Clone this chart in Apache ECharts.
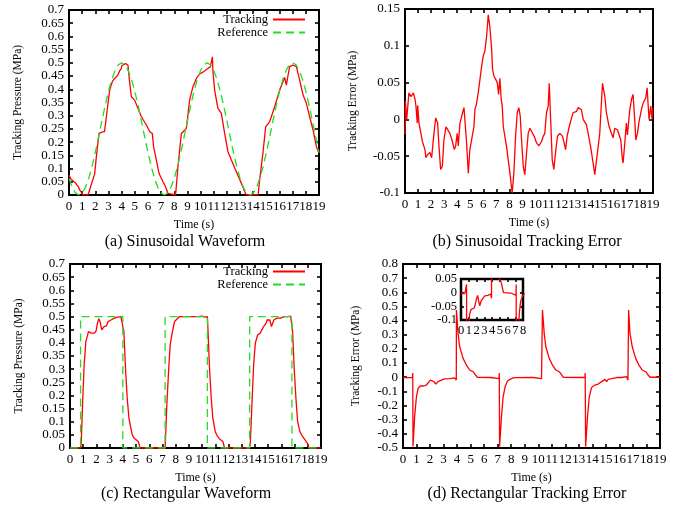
<!DOCTYPE html>
<html>
<head>
<meta charset="utf-8">
<script src="https://cdn.jsdelivr.net/npm/echarts@6/dist/echarts.min.js"></script>
<style>
  html, body { margin: 0; padding: 0; background: #fff; }
  #chart { width: 683px; height: 515px; }
</style>
</head>
<body>
<div id="chart"></div>
<script>
// ---- (a) sinusoidal reference pressure, MPa, [time s, value]
const sineReference = [
  [0,0.063],[0.25,0.029],[0.5,0.007],[0.75,0],[1,0.007],[1.25,0.029],[1.5,0.063],[1.75,0.108],
  [2,0.161],[2.25,0.22],[2.5,0.28],[2.75,0.339],[3,0.392],[3.25,0.437],[3.5,0.471],[3.75,0.493],
  [4,0.5],[4.25,0.493],[4.5,0.471],[4.75,0.437],[5,0.392],[5.25,0.339],[5.5,0.28],[5.75,0.22],
  [6,0.161],[6.25,0.108],[6.5,0.063],[6.75,0.029],[7,0.007],[7.25,0],[7.5,0.007],[7.75,0.029],
  [8,0.063],[8.25,0.108],[8.5,0.161],[8.75,0.22],[9,0.28],[9.25,0.339],[9.5,0.392],[9.75,0.437],
  [10,0.471],[10.25,0.493],[10.5,0.5],[10.75,0.493],[11,0.471],[11.25,0.437],[11.5,0.392],[11.75,0.339],
  [12,0.28],[12.25,0.22],[12.5,0.161],[12.75,0.108],[13,0.063],[13.25,0.029],[13.5,0.007],[13.75,0],
  [14,0.007],[14.25,0.029],[14.5,0.063],[14.75,0.108],[15,0.161],[15.25,0.22],[15.5,0.28],[15.75,0.339],
  [16,0.392],[16.25,0.437],[16.5,0.471],[16.75,0.493],[17,0.5],[17.25,0.493],[17.5,0.471],[17.75,0.437],
  [18,0.392],[18.25,0.339],[18.5,0.28],[18.75,0.22],[19,0.161]
];
// ---- (a) measured tracking pressure
const sineTracking = [
  [0,0.076],[0.15,0.06],[0.3,0.057],[0.5,0.045],[0.73,0.03],[0.8,0.02],[0.94,0.01],[1.06,0],[1.45,0],
  [1.57,0.02],[1.95,0.08],[2.08,0.145],[2.28,0.233],[2.5,0.238],[2.7,0.24],[2.84,0.296],[3.09,0.397],
  [3.3,0.43],[3.47,0.441],[3.72,0.454],[3.85,0.47],[3.98,0.479],[4.02,0.49],[4.1,0.496],[4.3,0.497],
  [4.48,0.492],[4.6,0.43],[4.74,0.372],[4.86,0.378],[4.99,0.359],[5.24,0.328],[5.5,0.296],[5.88,0.265],
  [6.13,0.24],[6.33,0.233],[6.43,0.183],[6.64,0.132],[6.84,0.082],[7.14,0.05],[7.27,0.044],[7.35,0.03],
  [7.52,0.006],[7.65,0],[8.1,0],[8.28,0.107],[8.54,0.233],[8.66,0.24],[8.92,0.252],[9.17,0.36],[9.42,0.41],
  [9.68,0.441],[9.93,0.458],[10.24,0.467],[10.56,0.479],[10.74,0.485],[10.85,0.478],[10.9,0.523],
  [10.94,0.467],[11.07,0.397],[11.2,0.36],[11.32,0.328],[11.58,0.309],[11.83,0.233],[12.08,0.164],
  [12.34,0.132],[12.72,0.088],[13.1,0.044],[13.35,0.013],[13.48,0],[14.37,0],[14.49,0.057],[14.75,0.164],
  [14.95,0.259],[15.25,0.277],[15.63,0.334],[16.01,0.397],[16.27,0.429],[16.39,0.445],[16.52,0.416],
  [16.65,0.454],[16.77,0.486],[17.03,0.492],[17.28,0.486],[17.53,0.435],[17.79,0.378],[18.04,0.347],
  [18.29,0.296],[18.55,0.246],[18.8,0.183],[19,0.158]
];
// ---- (b) sinusoidal tracking error
const sineError = [
  [0,-0.02],[0.03,0.025],[0.13,0],[0.3,0.036],[0.46,0.031],[0.64,0.036],[0.77,0.027],[0.84,0.018],
  [0.94,-0.005],[0.97,0.019],[1.07,-0.005],[1.15,-0.003],[1.22,-0.019],[1.33,-0.03],[1.45,-0.032],
  [1.53,-0.041],[1.6,-0.052],[1.73,-0.048],[1.91,-0.045],[2.04,-0.052],[2.22,-0.019],[2.35,0.002],
  [2.5,-0.005],[2.6,-0.036],[2.73,-0.068],[2.86,-0.064],[2.98,-0.028],[3.14,-0.01],[3.25,-0.012],
  [3.44,-0.019],[3.6,-0.028],[3.78,-0.041],[3.88,-0.036],[4,-0.019],[4.08,-0.036],[4.21,-0.005],
  [4.41,0.009],[4.52,0.016],[4.62,0.014],[4.72,-0.032],[4.85,-0.073],[4.97,-0.041],[5.15,-0.023],
  [5.28,-0.01],[5.36,0.014],[5.48,0.021],[5.61,0.036],[5.74,0.054],[5.87,0.072],[5.99,0.086],
  [6.12,0.093],[6.25,0.113],[6.38,0.142],[6.5,0.126],[6.63,0.097],[6.71,0.068],[6.81,0.059],
  [6.96,0.054],[7.07,0.05],[7.17,0.034],[7.27,0.056],[7.37,0.027],[7.45,0.018],[7.53,-0.01],
  [7.65,-0.023],[7.78,-0.037],[7.91,-0.055],[8.04,-0.073],[8.21,-0.1],[8.34,-0.073],[8.47,-0.023],
  [8.6,0.009],[8.72,0.016],[8.83,0.004],[8.93,-0.028],[9.06,-0.064],[9.18,-0.075],[9.31,-0.046],
  [9.44,-0.019],[9.57,-0.012],[9.69,-0.014],[9.9,-0.023],[10.08,-0.032],[10.26,-0.036],[10.46,-0.03],
  [10.59,-0.023],[10.71,-0.019],[10.84,0.009],[10.97,0.018],[11.05,0.049],[11.15,0.004],[11.28,-0.055],
  [11.4,-0.068],[11.56,-0.041],[11.68,-0.023],[11.86,-0.019],[12.07,-0.023],[12.19,-0.032],[12.3,-0.041],
  [12.42,-0.023],[12.58,-0.01],[12.76,0.002],[12.88,0.009],[13.14,0.011],[13.27,0.016],[13.52,0.013],
  [13.65,0],[13.9,-0.007],[14.03,-0.019],[14.21,-0.036],[14.41,-0.059],[14.54,-0.075],[14.67,-0.077],
  [14.92,-0.019],[15.13,0.049],[15.31,0.031],[15.43,0.009],[15.64,-0.01],[15.82,-0.019],[15.94,-0.025],
  [16.07,-0.012],[16.28,-0.014],[16.4,-0.016],[16.53,-0.028],[16.66,-0.055],[16.71,-0.059],[16.84,-0.032],
  [16.96,-0.005],[17.04,-0.021],[17.22,0.013],[17.35,0.027],[17.47,0.034],[17.6,0],[17.68,-0.028],
  [17.81,-0.019],[17.93,-0.003],[18.11,0.013],[18.24,0.022],[18.44,0.029],[18.55,0.043],[18.62,0.022],
  [18.7,0],[18.83,0.018],[18.93,0],[19,0.016]
];
// ---- (c) rectangular reference pressure
const rectReference = [
  [0,0],[0.8,0],[0.8,0.5],[4,0.5],[4,0],[7.2,0],[7.2,0.5],[10.4,0.5],[10.4,0],
  [13.6,0],[13.6,0.5],[16.8,0.5],[16.8,0],[19,0]
];
// ---- (c) measured tracking pressure
const rectTracking = [
  [0,0],[0.8,0],[0.85,0.02],[0.95,0.165],[1.07,0.316],[1.2,0.405],[1.4,0.443],[1.6,0.437],[1.85,0.437],
  [1.97,0.445],[2.08,0.475],[2.18,0.492],[2.28,0.48],[2.4,0.449],[2.58,0.462],[2.76,0.465],[2.88,0.481],
  [3.1,0.487],[3.35,0.494],[3.6,0.498],[3.85,0.5],[3.92,0.506],[3.97,0.497],[4,0.5],[4.08,0.443],
  [4.2,0.304],[4.33,0.19],[4.46,0.114],[4.58,0.082],[4.71,0.051],[4.84,0.038],[4.97,0.032],[5.17,0.025],
  [5.3,0],[7.2,0],[7.33,0.165],[7.46,0.29],[7.58,0.39],[7.73,0.437],[7.91,0.481],[8.04,0.487],[8.3,0.5],
  [9,0.5],[9.7,0.5],[10,0.502],[10.2,0.498],[10.4,0.5],[10.45,0.443],[10.56,0.304],[10.69,0.19],
  [10.81,0.114],[10.99,0.063],[11.17,0.044],[11.37,0.032],[11.57,0.025],[11.7,0],[13.6,0],[13.65,0.02],
  [13.77,0.165],[13.9,0.316],[14.03,0.399],[14.2,0.43],[14.4,0.437],[14.65,0.462],[14.85,0.475],
  [14.92,0.487],[15.13,0.487],[15.25,0.462],[15.43,0.487],[15.68,0.494],[15.94,0.494],[16.2,0.5],
  [16.45,0.5],[16.7,0.502],[16.8,0.5],[16.85,0.443],[16.97,0.304],[17.1,0.19],[17.23,0.101],[17.4,0.063],
  [17.6,0.044],[17.78,0.032],[17.96,0.019],[18.1,0],[19,0]
];
// ---- (d) rectangular tracking error
const rectError = [
  [0,-0.003],[0.5,-0.003],[0.7,-0.003],[0.72,0.03],[0.74,-0.49],[0.86,-0.28],[0.99,-0.14],[1.11,-0.08],
  [1.28,-0.062],[1.53,-0.062],[1.73,-0.055],[1.85,-0.048],[2.02,-0.02],[2.15,-0.01],[2.27,-0.03],
  [2.42,-0.048],[2.59,-0.031],[2.84,-0.02],[3.08,-0.012],[3.45,-0.01],[3.82,-0.005],[3.92,-0.01],
  [3.94,-0.02],[3.95,0.475],[4.07,0.31],[4.19,0.215],[4.44,0.133],[4.69,0.086],[4.93,0.051],[5.18,0.039],
  [5.3,0.023],[5.48,0],[6.5,-0.002],[7.1,-0.01],[7.12,0.03],[7.14,-0.49],[7.28,-0.28],[7.4,-0.14],
  [7.55,-0.067],[7.7,-0.031],[7.9,-0.015],[8.14,-0.005],[8.39,-0.003],[9.62,-0.002],[10.24,-0.01],
  [10.29,-0.02],[10.31,0.475],[10.44,0.31],[10.56,0.215],[10.81,0.133],[11.05,0.086],[11.3,0.051],
  [11.55,0.039],[11.67,0.023],[11.84,0],[13.45,-0.002],[13.47,0.03],[13.5,-0.49],[13.64,-0.28],
  [13.77,-0.14],[13.94,-0.072],[14.19,-0.055],[14.43,-0.048],[14.68,-0.031],[14.93,-0.015],[15.05,-0.031],
  [15.17,-0.015],[15.42,-0.01],[15.79,-0.002],[16.16,-0.002],[16.53,0.004],[16.63,-0.02],[16.68,0.475],
  [16.78,0.31],[16.95,0.215],[17.2,0.133],[17.44,0.086],[17.69,0.051],[17.94,0.039],[18.06,0.023],
  [18.26,0],[19,0]
];

const captions = ['(a) Sinusoidal Waveform', '(b) Sinusoidal Tracking Error',
                  '(c) Rectangular Waveform', '(d) Rectangular Tracking Error'];
const legendNames = ['Tracking', 'Reference'];

const FONT = '"Liberation Serif", "Times New Roman", serif';
const RED = '#ff0000';
const GREEN = '#22dd22';
const fmt = v => String(parseFloat(Number(v).toFixed(3)));

const grids = [], xAxes = [], yAxes = [], series = [];

function panel(box, xr, yr, o) {
  const gi = grids.length;
  const z = o.z || 0;
  grids.push({ left: box[0], top: box[1], width: box[2], height: box[3], show: true,
    borderColor: '#000', borderWidth: o.bw || 2, backgroundColor: '#fff', z: z });
  const tick = { show: true, inside: true, length: o.tl || 4, lineStyle: { color: '#000', width: 1.6 } };
  const noLine = { show: false, onZero: false };
  const lbl = (m) => ({ show: true, color: '#000', fontFamily: FONT, fontSize: o.fs || 13, margin: m, formatter: fmt });
  const nameStyle = { color: '#000', fontFamily: FONT, fontSize: 11.5 };
  const common = (r, pos) => ({ gridIndex: gi, type: 'value', min: r[0], max: r[1], interval: r[2], position: pos, z: z,
    axisLine: noLine, axisTick: tick, splitLine: { show: false } });
  xAxes.push(Object.assign(common(xr, 'bottom'), { axisLabel: lbl(o.xm || 5),
    name: o.xName || '', nameLocation: 'middle', nameGap: o.xGap || 24, nameTextStyle: Object.assign({}, nameStyle, { fontSize: 12 }) }));
  xAxes.push(Object.assign(common(xr, 'top'), { axisLabel: { show: false } }));
  yAxes.push(Object.assign(common(yr, 'left'), { axisLabel: lbl(o.ym || 5),
    name: o.yName || '', nameLocation: 'middle', nameRotate: 90, nameGap: o.yGap || 45, nameTextStyle: nameStyle }));
  yAxes.push(Object.assign(common(yr, 'right'), { axisLabel: { show: false } }));
  return { x: xAxes.length - 2, y: yAxes.length - 2, z: z };
}

function addLine(p, name, data, color, dashed) {
  series.push({ type: 'line', name: name, xAxisIndex: p.x, yAxisIndex: p.y, data: data,
    symbol: 'none', showSymbol: false, clip: true, z: p.z + 2,
    lineStyle: { color: color, width: 1.3, type: dashed ? [8, 5] : 'solid' },
    itemStyle: { color: color } });
}

const pa = panel([69, 10, 250, 185], [0, 19, 1], [0, 0.7, 0.05], { xName: 'Time (s)', yName: 'Tracking Pressure (MPa)', yGap: 45 });
const pb = panel([405, 9, 248, 184], [0, 19, 1], [-0.1, 0.15, 0.05], { xName: 'Time (s)', yName: 'Tracking Error (MPa)', yGap: 46 });
const pc = panel([70, 264, 251, 184], [0, 19, 1], [0, 0.7, 0.05], { xName: 'Time (s)', yName: 'Tracking Pressure (MPa)', yGap: 45 });
const pd = panel([403, 264, 257, 184], [0, 19, 1], [-0.5, 0.8, 0.1], { xName: 'Time (s)', yName: 'Tracking Error (MPa)', yGap: 41 });
const pi = panel([461, 279, 62, 41], [0, 8, 1], [-0.1, 0.05, 0.05], { z: 5, tl: 3, bw: 2.5, xm: 4, ym: 4, fs: 12.5 });

addLine(pa, legendNames[0], sineTracking, RED, false);
addLine(pa, legendNames[1], sineReference, GREEN, true);
addLine(pb, 'Sinusoidal error', sineError, RED, false);
addLine(pc, legendNames[0], rectTracking, RED, false);
addLine(pc, legendNames[1], rectReference, GREEN, true);
addLine(pd, 'Rectangular error', rectError, RED, false);
addLine(pi, 'Rectangular error detail', rectError, RED, false);

const legendBase = {
  orient: 'vertical', align: 'right', itemWidth: 32, itemHeight: 8, itemGap: 0,
  data: legendNames, selectedMode: false, padding: 0,
  itemStyle: { color: 'rgba(0,0,0,0)', borderWidth: 0, opacity: 0 },
  textStyle: { color: '#000', fontFamily: FONT, fontSize: 12.5, lineHeight: 12 }
};

const captionText = (text, x, y) => ({
  type: 'text', x: x, y: y,
  style: { text: text, font: '16px "Liberation Serif", serif', fill: '#000', textAlign: 'center', textVerticalAlign: 'middle' }
});

const chart = echarts.init(document.getElementById('chart'), null, { renderer: 'canvas' });
chart.setOption({
  animation: false,
  backgroundColor: '#fff',
  grid: grids,
  xAxis: xAxes,
  yAxis: yAxes,
  series: series,
  legend: [
    Object.assign({}, legendBase, { right: 683 - 306, top: 13 }),
    Object.assign({}, legendBase, { right: 683 - 306, top: 265 })
  ],
  graphic: [
    captionText(captions[0], 185, 242),
    captionText(captions[1], 527, 242),
    captionText(captions[2], 186, 494),
    captionText(captions[3], 527, 494)
  ]
});
</script>
</body>
</html>
